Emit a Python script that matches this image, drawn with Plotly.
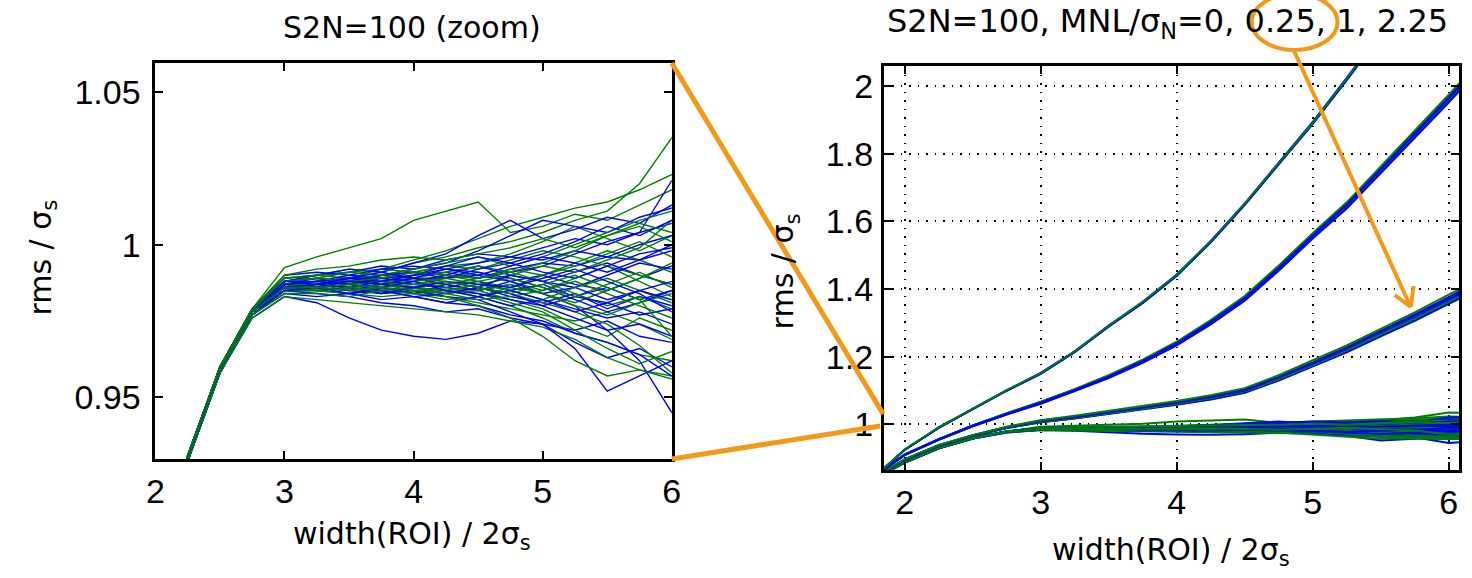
import plotly.graph_objects as go

# ---------------- data ----------------
X_WIDTH = [1.75, 2.0, 2.25, 2.5, 2.75, 3.0, 3.25, 3.5, 3.75, 4.0, 4.25, 4.5,
           4.75, 5.0, 5.25, 5.5, 5.75, 6.0, 6.25]

BLUE_MNL0 = [
    [0.834,0.888,0.930,0.959,0.978,0.987,0.988,0.989,0.988,0.990,0.991,0.989,0.992,0.994,0.993,0.996,0.995,0.998,0.997],
    [0.835,0.889,0.931,0.960,0.979,0.989,0.990,0.991,0.993,0.992,0.995,0.997,0.996,0.999,1.002,1.000,1.004,1.007,1.006],
    [0.833,0.887,0.929,0.958,0.977,0.985,0.984,0.983,0.981,0.980,0.978,0.979,0.976,0.974,0.972,0.975,0.970,0.968,0.971],
    [0.833,0.887,0.929,0.958,0.976,0.983,0.981,0.976,0.972,0.970,0.969,0.971,0.975,0.974,0.968,0.963,0.966,0.960,0.962],
    [0.835,0.889,0.931,0.960,0.979,0.988,0.989,0.987,0.990,0.992,0.994,0.998,1.003,1.008,1.006,1.004,1.009,1.012,1.010],
    [0.834,0.888,0.930,0.959,0.978,0.986,0.986,0.985,0.987,0.986,0.984,0.986,0.983,0.981,0.984,0.979,0.983,0.980,0.982],
    [0.834,0.889,0.930,0.960,0.978,0.987,0.988,0.990,0.989,0.991,0.990,0.993,0.990,0.988,0.991,0.994,0.990,0.987,0.989],
    [0.833,0.887,0.929,0.958,0.977,0.985,0.985,0.984,0.986,0.984,0.987,0.985,0.988,0.990,0.987,0.985,0.989,0.993,0.991],
    [0.834,0.888,0.930,0.959,0.978,0.987,0.987,0.986,0.985,0.983,0.981,0.980,0.977,0.975,0.971,0.968,0.964,0.957,0.960],
    [0.834,0.888,0.930,0.959,0.978,0.986,0.985,0.986,0.984,0.985,0.983,0.982,0.978,0.974,0.966,0.952,0.957,0.962,0.960],
    [0.834,0.888,0.930,0.959,0.977,0.986,0.987,0.988,0.988,0.989,0.989,0.990,0.988,0.984,0.980,0.972,0.962,0.945,0.950],
    [0.835,0.889,0.931,0.960,0.979,0.988,0.990,0.992,0.991,0.994,0.997,1.003,1.008,1.002,1.005,1.009,1.007,1.013,1.011],
    [0.834,0.888,0.930,0.959,0.978,0.987,0.988,0.987,0.989,0.988,0.990,0.989,0.991,0.993,0.997,1.001,1.004,1.021,1.018],
    [0.834,0.888,0.930,0.959,0.978,0.986,0.987,0.989,0.988,0.987,0.986,0.988,0.985,0.987,0.983,0.986,0.982,0.985,0.983],
    [0.833,0.887,0.929,0.958,0.977,0.984,0.983,0.984,0.982,0.983,0.981,0.983,0.980,0.982,0.979,0.976,0.978,0.974,0.976],
    [0.835,0.889,0.931,0.960,0.979,0.990,0.991,0.990,0.992,0.993,0.992,0.994,0.996,0.995,0.998,0.996,1.000,1.003,1.001],
    [0.834,0.888,0.930,0.959,0.978,0.987,0.986,0.988,0.987,0.989,0.987,0.985,0.987,0.984,0.986,0.990,0.994,0.992,0.995],
    [0.834,0.888,0.930,0.959,0.978,0.987,0.989,0.988,0.990,0.991,0.989,0.992,0.994,0.991,0.989,0.993,0.997,0.999,0.997],
    [0.834,0.888,0.930,0.959,0.978,0.986,0.986,0.987,0.985,0.986,0.985,0.984,0.982,0.980,0.983,0.981,0.977,0.979,0.975],
    [0.834,0.888,0.930,0.959,0.978,0.988,0.988,0.989,0.989,0.990,0.992,0.991,0.989,0.986,0.982,0.978,0.981,0.985,0.983],
    [0.834,0.888,0.930,0.959,0.978,0.986,0.987,0.986,0.988,0.990,0.993,0.996,0.994,0.997,1.001,1.006,1.003,1.008,1.006],
    [0.834,0.888,0.930,0.959,0.978,0.987,0.986,0.985,0.984,0.986,0.988,0.986,0.990,0.988,0.986,0.982,0.985,0.988,0.986],
    [0.833,0.888,0.929,0.959,0.977,0.985,0.986,0.984,0.985,0.983,0.984,0.986,0.984,0.980,0.976,0.972,0.974,0.970,0.973],
    [0.834,0.888,0.930,0.959,0.978,0.988,0.987,0.989,0.991,0.989,0.992,0.990,0.993,0.996,0.994,0.991,0.995,1.000,0.998],
    [0.834,0.888,0.930,0.959,0.978,0.987,0.988,0.987,0.986,0.988,0.985,0.983,0.985,0.982,0.978,0.981,0.985,0.982,0.984],
    [0.834,0.888,0.930,0.959,0.978,0.986,0.987,0.988,0.987,0.986,0.988,0.987,0.986,0.989,0.992,0.988,0.984,0.978,0.981],
]

GREEN_MNL0 = [
    [0.834,0.888,0.930,0.959,0.979,0.9925,0.996,0.999,1.002,1.008,1.011,1.014,1.004,1.006,1.010,1.008,1.013,1.018,1.015],
    [0.834,0.888,0.930,0.959,0.978,0.989,0.990,0.992,0.991,0.994,0.996,0.999,1.001,1.004,1.008,1.011,1.020,1.035,1.032],
    [0.834,0.888,0.930,0.959,0.978,0.988,0.990,0.989,0.992,0.995,0.998,1.002,1.006,1.009,1.012,1.014,1.018,1.023,1.021],
    [0.833,0.887,0.929,0.958,0.976,0.983,0.982,0.981,0.980,0.979,0.978,0.977,0.975,0.973,0.969,0.963,0.959,0.957,0.960],
    [0.834,0.888,0.930,0.959,0.978,0.986,0.987,0.985,0.986,0.984,0.985,0.983,0.980,0.976,0.971,0.968,0.964,0.962,0.965],
    [0.834,0.888,0.930,0.959,0.978,0.987,0.988,0.989,0.987,0.988,0.986,0.985,0.982,0.979,0.974,0.970,0.976,0.972,0.974],
    [0.834,0.888,0.930,0.959,0.978,0.987,0.986,0.988,0.990,0.991,0.993,0.994,0.997,1.001,1.006,1.002,0.998,1.003,1.001],
    [0.835,0.889,0.931,0.960,0.979,0.988,0.989,0.988,0.989,0.987,0.989,0.991,0.988,0.985,0.989,0.993,0.988,0.983,0.986],
    [0.833,0.887,0.929,0.958,0.977,0.985,0.985,0.986,0.984,0.985,0.983,0.981,0.979,0.977,0.975,0.978,0.974,0.969,0.972],
    [0.834,0.888,0.930,0.959,0.978,0.986,0.986,0.987,0.988,0.986,0.987,0.989,0.992,0.990,0.993,0.997,1.001,0.996,0.999],
    [0.834,0.888,0.930,0.959,0.978,0.987,0.988,0.987,0.988,0.989,0.988,0.986,0.984,0.981,0.978,0.974,0.967,0.958,0.961],
    [0.834,0.888,0.930,0.959,0.978,0.986,0.987,0.988,0.987,0.988,0.990,0.988,0.986,0.990,0.994,0.998,0.995,0.991,0.993],
    [0.835,0.889,0.931,0.960,0.979,0.989,0.990,0.991,0.992,0.991,0.993,0.992,0.995,0.998,0.996,0.993,0.990,0.987,0.989],
    [0.833,0.887,0.929,0.958,0.977,0.985,0.985,0.984,0.983,0.984,0.982,0.983,0.986,0.984,0.981,0.985,0.989,0.994,0.991],
    [0.834,0.888,0.930,0.959,0.978,0.987,0.988,0.989,0.990,0.989,0.991,0.993,0.991,0.988,0.984,0.980,0.983,0.979,0.981],
    [0.834,0.888,0.930,0.959,0.978,0.987,0.987,0.986,0.987,0.989,0.987,0.988,0.990,0.993,0.991,0.995,0.999,1.008,1.005],
    [0.834,0.888,0.930,0.959,0.978,0.986,0.987,0.988,0.986,0.985,0.986,0.984,0.981,0.978,0.972,0.966,0.961,0.965,0.962],
    [0.834,0.888,0.930,0.959,0.978,0.986,0.985,0.986,0.985,0.984,0.983,0.980,0.976,0.970,0.962,0.957,0.959,0.956,0.960],
    [0.835,0.889,0.931,0.960,0.979,0.988,0.989,0.991,0.990,0.992,0.994,0.996,0.993,0.996,1.000,1.004,1.008,1.011,1.009],
    [0.834,0.888,0.930,0.959,0.978,0.987,0.988,0.987,0.988,0.986,0.985,0.987,0.989,0.986,0.983,0.987,0.991,0.986,0.988],
    [0.834,0.888,0.930,0.959,0.978,0.986,0.985,0.986,0.987,0.985,0.984,0.982,0.983,0.985,0.988,0.984,0.980,0.976,0.978],
    [0.834,0.888,0.930,0.959,0.978,0.988,0.989,0.988,0.989,0.991,0.990,0.989,0.991,0.994,0.998,1.003,1.006,1.001,1.003],
    [0.833,0.887,0.929,0.958,0.977,0.984,0.984,0.983,0.985,0.986,0.984,0.985,0.987,0.984,0.980,0.977,0.981,0.984,0.982],
    [0.834,0.888,0.930,0.959,0.978,0.987,0.986,0.985,0.986,0.988,0.989,0.987,0.985,0.982,0.986,0.989,0.985,0.981,0.983],
    [0.835,0.889,0.931,0.960,0.979,0.990,0.992,0.993,0.995,0.996,0.995,0.997,0.999,1.002,0.999,1.003,1.007,1.004,1.006],
    [0.834,0.888,0.930,0.959,0.978,0.986,0.986,0.987,0.986,0.987,0.988,0.986,0.984,0.987,0.990,0.986,0.982,0.970,0.974],
]

BLUE_MNL025 = [
    [0.836,0.895,0.937,0.966,0.990,1.008,1.020,1.033,1.047,1.062,1.078,1.098,1.135,1.176,1.220,1.268,1.315,1.365,1.415],
    [0.836,0.896,0.938,0.968,0.992,1.011,1.023,1.037,1.051,1.067,1.083,1.104,1.141,1.183,1.228,1.276,1.325,1.376,1.428],
    [0.835,0.894,0.936,0.965,0.989,1.006,1.017,1.030,1.043,1.058,1.073,1.093,1.129,1.170,1.213,1.260,1.306,1.356,1.405],
    [0.836,0.895,0.937,0.967,0.991,1.009,1.021,1.035,1.049,1.064,1.080,1.100,1.138,1.179,1.224,1.272,1.320,1.370,1.421],
]
GREEN_MNL025 = [
    [0.836,0.896,0.938,0.967,0.991,1.010,1.022,1.035,1.050,1.065,1.081,1.102,1.139,1.181,1.226,1.274,1.322,1.373,1.424],
    [0.835,0.894,0.936,0.965,0.989,1.006,1.018,1.031,1.044,1.059,1.074,1.094,1.131,1.172,1.215,1.262,1.309,1.358,1.408],
    [0.836,0.895,0.937,0.966,0.990,1.007,1.019,1.032,1.046,1.061,1.077,1.097,1.133,1.174,1.218,1.266,1.312,1.362,1.412],
    [0.836,0.897,0.939,0.968,0.993,1.012,1.025,1.039,1.053,1.069,1.086,1.107,1.145,1.188,1.233,1.282,1.331,1.383,1.435],
]

BLUE_MNL1 = [
    [0.838,0.910,0.955,0.995,1.030,1.063,1.100,1.140,1.185,1.237,1.300,1.370,1.460,1.555,1.645,1.750,1.855,1.960,2.070],
    [0.838,0.911,0.956,0.997,1.032,1.066,1.103,1.144,1.189,1.242,1.305,1.376,1.466,1.561,1.652,1.757,1.862,1.968,2.078],
    [0.837,0.909,0.954,0.994,1.029,1.061,1.098,1.137,1.182,1.233,1.295,1.365,1.454,1.549,1.638,1.742,1.847,1.951,2.061],
    [0.838,0.910,0.955,0.996,1.031,1.064,1.101,1.141,1.187,1.239,1.302,1.372,1.462,1.557,1.648,1.752,1.857,1.963,2.073],
]
GREEN_MNL1 = [
    [0.838,0.910,0.956,0.996,1.031,1.064,1.101,1.142,1.187,1.239,1.302,1.373,1.463,1.558,1.649,1.754,1.859,1.965,2.075],
    [0.837,0.909,0.954,0.994,1.029,1.062,1.099,1.139,1.183,1.235,1.297,1.367,1.457,1.552,1.641,1.746,1.851,1.956,2.066],
    [0.838,0.911,0.956,0.997,1.033,1.067,1.104,1.145,1.191,1.244,1.308,1.379,1.469,1.565,1.656,1.762,1.867,1.974,2.084],
]

BLUE_MNL225 = [
    [0.835,0.925,0.990,1.045,1.100,1.150,1.215,1.290,1.360,1.440,1.540,1.650,1.770,1.890,2.020,2.150,2.290,2.430,2.580],
    [0.835,0.926,0.991,1.046,1.101,1.152,1.216,1.292,1.362,1.443,1.542,1.653,1.773,1.894,2.024,2.155,2.295,2.436,2.586],
    [0.834,0.924,0.989,1.044,1.099,1.149,1.213,1.288,1.358,1.438,1.537,1.648,1.767,1.887,2.016,2.146,2.285,2.425,2.574],
]
GREEN_MNL225 = [
    [0.835,0.925,0.990,1.046,1.100,1.151,1.214,1.291,1.361,1.441,1.541,1.651,1.771,1.892,2.022,2.152,2.292,2.433,2.583],
    [0.834,0.924,0.989,1.044,1.099,1.149,1.214,1.289,1.359,1.439,1.539,1.649,1.769,1.888,2.018,2.148,2.288,2.428,2.577],
    [0.835,0.926,0.991,1.045,1.101,1.151,1.216,1.291,1.362,1.442,1.541,1.652,1.772,1.891,2.021,2.153,2.293,2.432,2.582],
]

LEFT_XTICKS = [2, 3, 4, 5, 6]
LEFT_YTICKS = [0.95, 1.0, 1.05]
LEFT_YTICK_TEXT = ["0.95", "1", "1.05"]
RIGHT_XTICKS = [2, 3, 4, 5, 6]
RIGHT_YTICKS = [1.0, 1.2, 1.4, 1.6, 1.8, 2.0]
RIGHT_YTICK_TEXT = ["1", "1.2", "1.4", "1.6", "1.8", "2"]

LEFT_TITLE = "S2N=100 (zoom)"
RIGHT_TITLE = "S2N=100, MNL/σ<sub>N</sub>=0, 0.25, 1, 2.25"
Y_LABEL = "rms / σ<sub>s</sub>"
X_LABEL = "width(ROI) / 2σ<sub>s</sub>"

# ---------------- styling ----------------
W, H = 1472, 578
BLUE = "rgb(0,0,255)"
GREEN = "rgb(0,128,0)"
ORANGE = "rgb(243,152,25)"
TEXT_FONT = "DejaVu Sans"
TICK_FONT = "Liberation Sans, Arial, sans-serif"


def px(x):
    return x / W


def py(y):
    return 1 - y / H


fig = go.Figure()


def add_pairs(blues, greens, xa, ya, width):
    n = max(len(blues), len(greens))
    for i in range(n):
        if i < len(blues):
            fig.add_trace(go.Scatter(x=X_WIDTH, y=blues[i], mode="lines",
                                     line=dict(color=BLUE, width=width),
                                     xaxis=xa, yaxis=ya, showlegend=False,
                                     hoverinfo="skip"))
        if i < len(greens):
            fig.add_trace(go.Scatter(x=X_WIDTH, y=greens[i], mode="lines",
                                     line=dict(color=GREEN, width=width),
                                     xaxis=xa, yaxis=ya, showlegend=False,
                                     hoverinfo="skip"))


# left (zoom) panel
add_pairs(BLUE_MNL0, GREEN_MNL0, "x", "y", 1.4)
# right panel
add_pairs(BLUE_MNL0, GREEN_MNL0, "x2", "y2", 2)
add_pairs(BLUE_MNL025, GREEN_MNL025, "x2", "y2", 2)
add_pairs(BLUE_MNL1, GREEN_MNL1, "x2", "y2", 2)
add_pairs(BLUE_MNL225, GREEN_MNL225, "x2", "y2", 1.8)

axis_common = dict(showline=True, linecolor="black", linewidth=3, mirror="ticks",
                   ticks="inside", ticklen=8, tickwidth=2, tickcolor="black",
                   zeroline=False,
                   tickfont=dict(family=TICK_FONT, size=34, color="black"))

fig.update_layout(
    width=W, height=H,
    margin=dict(l=0, r=0, t=0, b=0),
    paper_bgcolor="white", plot_bgcolor="white",
    font=dict(family=TEXT_FONT, size=30, color="black"),
    showlegend=False,
    xaxis=dict(domain=[px(148.2), px(671)], range=[2, 6], anchor="y",
               tickvals=LEFT_XTICKS, showgrid=False, ticklabelstandoff=0,
               **axis_common),
    yaxis=dict(domain=[py(459), py(63.4)], range=[0.9298, 1.0594], anchor="x",
               tickvals=LEFT_YTICKS, ticktext=LEFT_YTICK_TEXT, showgrid=False,
               ticklabelstandoff=5, **axis_common),
    xaxis2=dict(domain=[px(885.7), px(1468)], range=[1.847, 6.076], anchor="y2",
                tickvals=RIGHT_XTICKS, showgrid=True, gridcolor="black",
                gridwidth=1.5, griddash="1.5px,7px", ticklabelstandoff=0,
                **axis_common),
    yaxis2=dict(domain=[py(470), py(66.3)], range=[0.865, 2.058], anchor="x2",
                tickvals=RIGHT_YTICKS, ticktext=RIGHT_YTICK_TEXT, showgrid=True,
                gridcolor="black", gridwidth=1.5, griddash="1.5px,7px",
                ticklabelstandoff=1, **axis_common),
)

ann = []
ann.append(dict(text=LEFT_TITLE, x=px(407.5), y=py(27), xref="paper", yref="paper",
                xanchor="center", yanchor="middle", showarrow=False))
ann.append(dict(text=RIGHT_TITLE, x=px(1173), y=py(0.5), xref="paper", yref="paper",
                xanchor="center", yanchor="top", showarrow=False,
                font=dict(family=TEXT_FONT, size=32, color="black")))
ann.append(dict(text=Y_LABEL, x=px(33), y=py(258), xref="paper", yref="paper",
                xanchor="center", yanchor="middle", textangle=-90, showarrow=False))
ann.append(dict(text=Y_LABEL, x=px(785), y=py(271), xref="paper", yref="paper",
                xanchor="center", yanchor="middle", textangle=-90, showarrow=False))
ann.append(dict(text=X_LABEL, x=px(408), y=py(535), xref="paper", yref="paper",
                xanchor="center", yanchor="middle", showarrow=False))
ann.append(dict(text=X_LABEL, x=px(1176), y=py(551), xref="paper", yref="paper",
                xanchor="center", yanchor="middle", showarrow=False))
fig.update_layout(annotations=ann)


def seg(x0, y0, x1, y1, w):
    return dict(type="line", xref="paper", yref="paper",
                x0=px(x0), y0=py(y0), x1=px(x1), y1=py(y1),
                line=dict(color=ORANGE, width=w), layer="above")


shapes = [
    seg(671, 63, 885, 414, 5),
    seg(671, 459, 882, 426, 5),
    dict(type="circle", xref="paper", yref="paper",
         x0=px(1258), x1=px(1345), y0=py(50), y1=py(-6),
         line=dict(color=ORANGE, width=4), layer="above"),
    seg(1301, 51, 1419, 307, 4),
    seg(1419, 307, 1403, 295, 4),
    seg(1419, 307, 1422, 286, 4),
]
fig.update_layout(shapes=shapes)

fig.write_html("out.html")
